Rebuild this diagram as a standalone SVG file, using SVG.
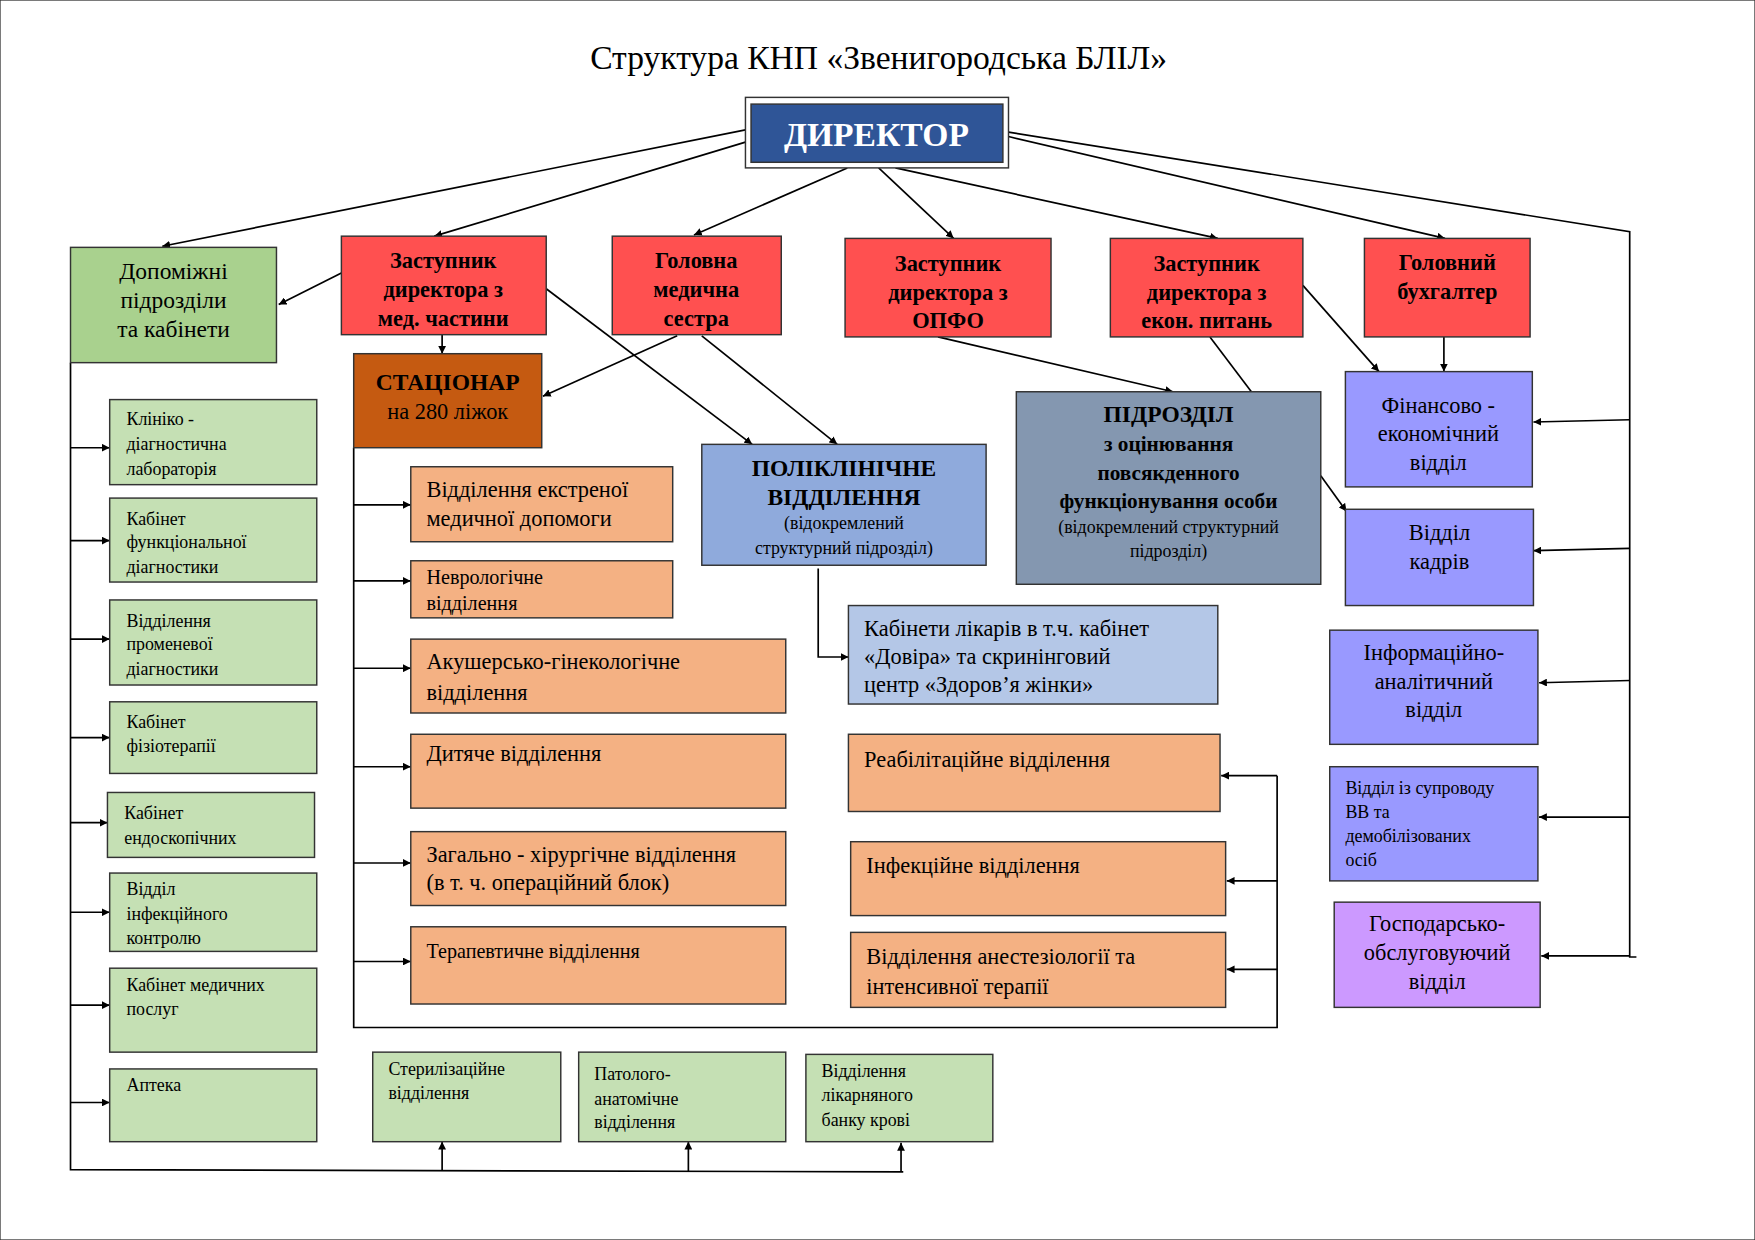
<svg xmlns="http://www.w3.org/2000/svg" width="1755" height="1240" viewBox="0 0 1755 1240">
<defs>
<marker id="a" viewBox="0 0 10 10" refX="10" refY="5" markerWidth="7" markerHeight="7" orient="auto-start-reverse" markerUnits="userSpaceOnUse"><path d="M0,0L10,5L0,10z" fill="#000"/></marker>
<style>
text{font-family:"Liberation Serif","Times New Roman",serif;fill:#000}
.c{text-anchor:middle}
.b{font-weight:bold}
rect{stroke:#333;stroke-width:1.3}
.r{fill:#FF5050}.g{fill:#A9D18E}.lg{fill:#C5E0B4}.o{fill:#F4B183}.p{fill:#9999FF}
#conn line,#conn polyline{stroke:#000;stroke-width:1.5;fill:none}
.ar{marker-end:url(#a)}
.f20{font-size:20px}.f18{font-size:18px}.f16{font-size:16px}.f21{font-size:21px}
</style>
</defs>
<rect x="0" y="0" width="1755" height="1240" fill="#fff" stroke="none"/>
<g transform="scale(1.1193)">
<text x="785" y="62" class="c" font-size="30">Структура КНП «Звенигородська БЛІЛ»</text>
<g id="conn">
<line class="ar" x1="666" y1="116" x2="145" y2="220"/>
<line class="ar" x1="666" y1="127" x2="388" y2="211"/>
<line class="ar" x1="757" y1="150" x2="620" y2="210"/>
<line class="ar" x1="785" y1="150" x2="852" y2="213"/>
<line class="ar" x1="800" y1="150" x2="1088" y2="213"/>
<line class="ar" x1="901" y1="122" x2="1291" y2="213"/>
<polyline points="901,118 1456,207 1456,855 1462,855"/>
<line class="ar" x1="1456" y1="375" x2="1370" y2="377"/>
<line class="ar" x1="1456" y1="490" x2="1370" y2="492"/>
<line class="ar" x1="1456" y1="608" x2="1375" y2="610"/>
<line class="ar" x1="1456" y1="730" x2="1375" y2="730"/>
<line class="ar" x1="1456" y1="854" x2="1377" y2="854"/>
<line class="ar" x1="305" y1="244" x2="249" y2="272"/>
<line class="ar" x1="395" y1="299" x2="395" y2="316"/>
<line class="ar" x1="488" y1="258" x2="672" y2="397"/>
<line class="ar" x1="605" y1="300" x2="485" y2="354"/>
<line class="ar" x1="627" y1="300" x2="748" y2="397"/>
<line class="ar" x1="838" y1="301" x2="1048" y2="350"/>
<line x1="1081" y1="301" x2="1118" y2="350"/>
<line class="ar" x1="1164" y1="255" x2="1232" y2="332"/>
<line class="ar" x1="1290" y1="301" x2="1290" y2="332"/>
<line class="ar" x1="1180" y1="425" x2="1203" y2="457"/>
<polyline class="ar" points="731,508 731,587 758,587"/>
<polyline points="63,324 63,1045 807,1047"/>
<line class="ar" x1="63" y1="400" x2="98" y2="400"/>
<line class="ar" x1="63" y1="483" x2="98" y2="483"/>
<line class="ar" x1="63" y1="571" x2="98" y2="571"/>
<line class="ar" x1="63" y1="659" x2="98" y2="659"/>
<line class="ar" x1="63" y1="735" x2="96" y2="735"/>
<line class="ar" x1="63" y1="815" x2="98" y2="815"/>
<line class="ar" x1="63" y1="898" x2="98" y2="898"/>
<line class="ar" x1="63" y1="985" x2="98" y2="985"/>
<line class="ar" x1="395" y1="1046" x2="395" y2="1020"/>
<line class="ar" x1="615" y1="1047" x2="615" y2="1020"/>
<line class="ar" x1="805" y1="1047" x2="805" y2="1021"/>
<polyline points="316,400 316,918 1141,918 1141,693"/>
<line class="ar" x1="316" y1="451" x2="367" y2="451"/>
<line class="ar" x1="316" y1="519" x2="367" y2="519"/>
<line class="ar" x1="316" y1="597" x2="367" y2="597"/>
<line class="ar" x1="316" y1="685" x2="367" y2="685"/>
<line class="ar" x1="316" y1="771" x2="367" y2="771"/>
<line class="ar" x1="316" y1="859" x2="367" y2="859"/>
<line class="ar" x1="1141" y1="693" x2="1091" y2="693"/>
<line class="ar" x1="1141" y1="787" x2="1096" y2="787"/>
<line class="ar" x1="1141" y1="866" x2="1096" y2="866"/>
</g>
<g id="director"><rect x="666" y="87" width="235" height="63" fill="#fff" stroke="#000" stroke-width="4"/><rect x="671" y="93" width="225" height="52" fill="#2F5597" stroke="#1a2f55"/><text x="783" y="130" class="c b" font-size="30" style="fill:#fff">ДИРЕКТОР</text></g>
<g id="zmed"><rect class="r" x="305" y="211" width="183" height="88"/><text class="c b f20" x="396"><tspan x="396" y="239">Заступник</tspan><tspan x="396" y="265">директора з</tspan><tspan x="396" y="291">мед. частини</tspan></text></g>
<g id="gms"><rect class="r" x="547" y="211" width="151" height="88"/><text class="c b f20"><tspan x="622" y="239">Головна</tspan><tspan x="622" y="265">медична</tspan><tspan x="622" y="291">сестра</tspan></text></g>
<g id="zopfo"><rect class="r" x="755" y="213" width="184" height="88"/><text class="c b f20"><tspan x="847" y="242">Заступник</tspan><tspan x="847" y="268">директора з</tspan><tspan x="847" y="293">ОПФО</tspan></text></g>
<g id="zekon"><rect class="r" x="992" y="213" width="172" height="88"/><text class="c b f20"><tspan x="1078" y="242">Заступник</tspan><tspan x="1078" y="268">директора з</tspan><tspan x="1078" y="293">екон. питань</tspan></text></g>
<g id="buh"><rect class="r" x="1219" y="213" width="148" height="88"/><text class="c b f20"><tspan x="1293" y="241">Головний</tspan><tspan x="1293" y="267">бухгалтер</tspan></text></g>
<g id="dop"><rect class="g" x="63" y="221" width="184" height="103"/><text class="c f21"><tspan x="155" y="249">Допоміжні</tspan><tspan x="155" y="275">підрозділи</tspan><tspan x="155" y="301">та кабінети</tspan></text></g>
<g id="stac"><rect x="316" y="316" width="168" height="84" fill="#C55A11"/><text class="c"><tspan x="400" y="348" class="b f21">СТАЦІОНАР</tspan><tspan x="400" y="374" class="f20">на 280 ліжок</tspan></text></g>
<g id="lab"><rect class="lg" x="98" y="357" width="185" height="76"/><text class="f16"><tspan x="113" y="380">Клініко -</tspan><tspan x="113" y="402">діагностична</tspan><tspan x="113" y="424">лабораторія</tspan></text></g>
<g id="func"><rect class="lg" x="98" y="445" width="185" height="75"/><text class="f16"><tspan x="113" y="469">Кабінет</tspan><tspan x="113" y="490">функціональної</tspan><tspan x="113" y="512">діагностики</tspan></text></g>
<g id="prom"><rect class="lg" x="98" y="536" width="185" height="76"/><text class="f16"><tspan x="113" y="560">Відділення</tspan><tspan x="113" y="581">променевої</tspan><tspan x="113" y="603">діагностики</tspan></text></g>
<g id="fiz"><rect class="lg" x="98" y="627" width="185" height="64"/><text class="f16"><tspan x="113" y="650">Кабінет</tspan><tspan x="113" y="672">фізіотерапії</tspan></text></g>
<g id="endo"><rect class="lg" x="96" y="708" width="185" height="58"/><text class="f16"><tspan x="111" y="732">Кабінет</tspan><tspan x="111" y="754">ендоскопічних</tspan></text></g>
<g id="inf"><rect class="lg" x="98" y="780" width="185" height="70"/><text class="f16"><tspan x="113" y="800">Відділ</tspan><tspan x="113" y="822">інфекційного</tspan><tspan x="113" y="843">контролю</tspan></text></g>
<g id="posl"><rect class="lg" x="98" y="865" width="185" height="75"/><text class="f16"><tspan x="113" y="885">Кабінет медичних</tspan><tspan x="113" y="907">послуг</tspan></text></g>
<g id="apt"><rect class="lg" x="98" y="955" width="185" height="65"/><text class="f16" x="113" y="975">Аптека</text></g>
<g id="ster"><rect class="lg" x="333" y="940" width="168" height="80"/><text class="f16"><tspan x="347" y="960">Стерилізаційне</tspan><tspan x="347" y="982">відділення</tspan></text></g>
<g id="pat"><rect class="lg" x="517" y="940" width="185" height="80"/><text class="f16"><tspan x="531" y="965">Патолого-</tspan><tspan x="531" y="987">анатомічне</tspan><tspan x="531" y="1008">відділення</tspan></text></g>
<g id="krov"><rect class="lg" x="720" y="942" width="167" height="78"/><text class="f16"><tspan x="734" y="962">Відділення</tspan><tspan x="734" y="984">лікарняного</tspan><tspan x="734" y="1006">банку крові</tspan></text></g>
<g id="ekstr"><rect class="o" x="367" y="417" width="234" height="67"/><text class="f20"><tspan x="381" y="444">Відділення екстреної</tspan><tspan x="381" y="470">медичної допомоги</tspan></text></g>
<g id="nevr"><rect class="o" x="367" y="501" width="234" height="51"/><text class="f18"><tspan x="381" y="522">Неврологічне</tspan><tspan x="381" y="545">відділення</tspan></text></g>
<g id="akush"><rect class="o" x="367" y="571" width="335" height="66"/><text class="f20"><tspan x="381" y="598">Акушерсько-гінекологічне</tspan><tspan x="381" y="625">відділення</tspan></text></g>
<g id="dyt"><rect class="o" x="367" y="656" width="335" height="66"/><text class="f20" x="381" y="680">Дитяче відділення</text></g>
<g id="khir"><rect class="o" x="367" y="743" width="335" height="66"/><text class="f20"><tspan x="381" y="770">Загально - хірургічне відділення</tspan><tspan x="381" y="795">(в т. ч. операційний блок)</tspan></text></g>
<g id="ter"><rect class="o" x="367" y="828" width="335" height="69"/><text class="f18" x="381" y="856">Терапевтичне відділення</text></g>
<g id="reab"><rect class="o" x="758" y="656" width="332" height="69"/><text class="f20" x="772" y="685">Реабілітаційне відділення</text></g>
<g id="infv"><rect class="o" x="760" y="752" width="335" height="66"/><text class="f20" x="774" y="780">Інфекційне відділення</text></g>
<g id="anest"><rect class="o" x="760" y="833" width="335" height="67"/><text class="f20"><tspan x="774" y="861">Відділення анестезіології та</tspan><tspan x="774" y="888">інтенсивної терапії</tspan></text></g>
<g id="poli"><rect x="627" y="397" width="254" height="108" fill="#8FAADC"/><text class="c"><tspan x="754" y="425" class="b f21">ПОЛІКЛІНІЧНЕ</tspan><tspan x="754" y="451" class="b f21">ВІДДІЛЕННЯ</tspan><tspan x="754" y="473" class="f16">(відокремлений</tspan><tspan x="754" y="495" class="f16">структурний підрозділ)</tspan></text></g>
<g id="kab"><rect x="758" y="541" width="330" height="88" fill="#B4C7E7"/><text class="f20"><tspan x="772" y="568">Кабінети лікарів в т.ч. кабінет</tspan><tspan x="772" y="593">«Довіра» та скринінговий</tspan><tspan x="772" y="618">центр «Здоров’я жінки»</tspan></text></g>
<g id="pidr"><rect x="908" y="350" width="272" height="172" fill="#8497B0"/><text class="c"><tspan x="1044" y="377" class="b f21">ПІДРОЗДІЛ</tspan><tspan x="1044" y="403" class="b" font-size="19">з оцінювання</tspan><tspan x="1044" y="429" class="b" font-size="19">повсякденного</tspan><tspan x="1044" y="454" class="b" font-size="19">функціонування особи</tspan><tspan x="1044" y="476" class="f16">(відокремлений структурний</tspan><tspan x="1044" y="498" class="f16">підрозділ)</tspan></text></g>
<g id="fin"><rect class="p" x="1202" y="332" width="167" height="103"/><text class="c f20"><tspan x="1285" y="369">Фінансово -</tspan><tspan x="1285" y="394">економічний</tspan><tspan x="1285" y="420">відділ</tspan></text></g>
<g id="kadr"><rect class="p" x="1202" y="455" width="168" height="86"/><text class="c f20"><tspan x="1286" y="482">Відділ</tspan><tspan x="1286" y="508">кадрів</tspan></text></g>
<g id="ia"><rect class="p" x="1188" y="563" width="186" height="102"/><text class="c f20"><tspan x="1281" y="590">Інформаційно-</tspan><tspan x="1281" y="616">аналітичний</tspan><tspan x="1281" y="641">відділ</tspan></text></g>
<g id="vv"><rect class="p" x="1188" y="685" width="186" height="102"/><text class="f16"><tspan x="1202" y="709">Відділ із супроводу</tspan><tspan x="1202" y="731">ВВ та</tspan><tspan x="1202" y="752">демобілізованих</tspan><tspan x="1202" y="774">осіб</tspan></text></g>
<g id="gosp"><rect x="1192" y="806" width="184" height="94" fill="#CC99FF"/><text class="c f20"><tspan x="1284" y="832">Господарсько-</tspan><tspan x="1284" y="858">обслуговуючий</tspan><tspan x="1284" y="884">відділ</tspan></text></g>
</g>
</svg>
